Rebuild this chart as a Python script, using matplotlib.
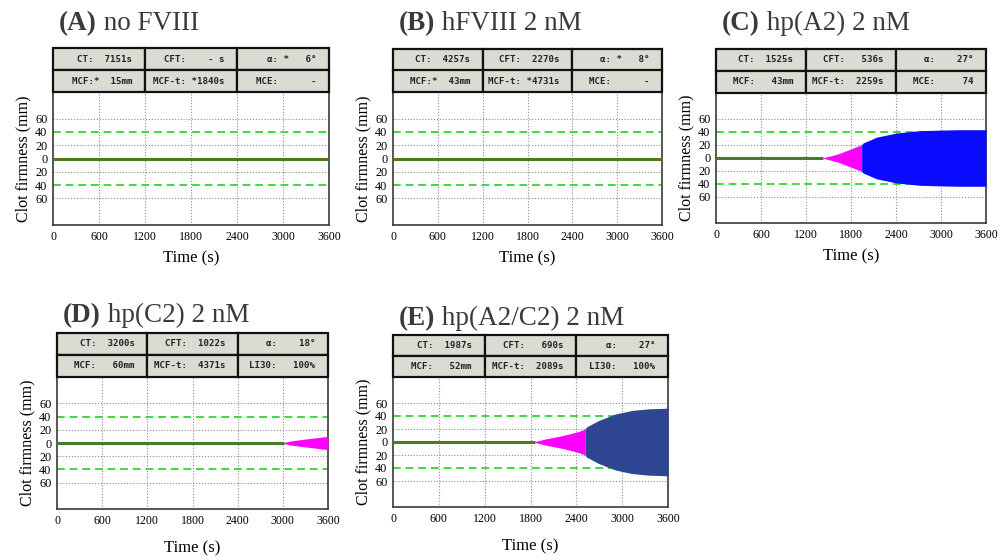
import matplotlib
matplotlib.use("Agg")
import matplotlib.pyplot as plt
from matplotlib.patches import Rectangle

plt.rcParams["font.family"] = ["Liberation Serif", "DejaVu Serif"]

W, H = 1005, 560

# ---- data -------------------------------------------------------------
panel_letters = ["(A)", "(B)", "(C)", "(D)", "(E)"]
panel_names = [" no FVIII", " hFVIII 2 nM", " hp(A2) 2 nM", " hp(C2) 2 nM", " hp(A2/C2) 2 nM"]

x_ticks = [0, 600, 1200, 1800, 2400, 3000, 3600]
y_ticks = [60, 40, 20, 0, -20, -40, -60]
y_tick_labels = ["60", "40", "20", "0", "20", "40", "60"]
ref_band = 40  # green dashed reference lines (mm)

# end of the flat baseline (s) before the clot starts to form
baseline_end = [3600, 3600, 1431, 3013, 1860]

# clot amplitude (mm) during clot formation (magenta) and after (blue)
c_form_t = [1431, 1620, 1800, 1942]
c_form_a = [0.5, 6, 14, 20.5]
c_firm_t = [1942, 1960, 2140, 2410, 2720, 3030, 3230, 3600]
c_firm_a = [20.5, 23, 32, 38.5, 42, 43, 43.5, 43.5]

d_form_t = [3013, 3100, 3300, 3600]
d_form_a = [0.8, 3, 6, 10]

e_form_t = [1860, 2000, 2226, 2410, 2517]
e_form_a = [0.8, 4.8, 10, 15.5, 20]
e_firm_t = [2517, 2530, 2691, 2909, 3126, 3343, 3600]
e_firm_a = [20, 23, 33, 43, 48.5, 51, 52]

# ROTEM parameter tables: (label, flag, value) per cell, 2 rows x 3 cols
tables = [
    [("CT:", "", "7151s"), ("CFT:", "", "- s"), ("α:", " *", "6°"),
     ("MCF:", "*", "15mm"), ("MCF-t:", "", "*1840s"), ("MCE:", "", "-")],
    [("CT:", "", "4257s"), ("CFT:", "", "2270s"), ("α:", " *", "8°"),
     ("MCF:", "*", "43mm"), ("MCF-t:", "", "*4731s"), ("MCE:", "", "-")],
    [("CT:", "", "1525s"), ("CFT:", "", "536s"), ("α:", "", "27°"),
     ("MCF:", "", "43mm"), ("MCF-t:", "", "2259s"), ("MCE:", "", "74")],
    [("CT:", "", "3200s"), ("CFT:", "", "1022s"), ("α:", "", "18°"),
     ("MCF:", "", "60mm"), ("MCF-t:", "", "4371s"), ("LI30:", "", "100%")],
    [("CT:", "", "1987s"), ("CFT:", "", "690s"), ("α:", "", "27°"),
     ("MCF:", "", "52mm"), ("MCF-t:", "", "2089s"), ("LI30:", "", "100%")],
]

# ---- layout (pixel boxes: left, right, top, bottom) -------------------
plot_boxes = [(53, 329, 92, 225), (393, 662, 92, 225), (716, 986, 93, 223),
              (57, 328, 377, 509), (393, 668, 377, 507)]
table_tops = [48, 49, 49, 333, 335]
title_baselines = [30.5, 30.5, 30.5, 322, 325]
xlabel_pads = [5.5, 5.5, 5.5, 10, 10]

MAGENTA = "#ff00ff"
BLUE_C = "#0a0aff"
NAVY_E = "#2e4592"
BASE_GREEN = "#4b7b22"
REF_GREEN = "#3ddc3d"
GRID = "#8a8a8a"
CELL = "#dcdbd3"
FIELD = 7  # characters printed after the colon in each table cell

fig = plt.figure(figsize=(W / 100, H / 100), dpi=100)
fig.patch.set_facecolor("white")


def fbox(l, r, t, b):
    return [l / W, 1 - b / H, (r - l) / W, (b - t) / H]


def cell_text(label, flag, value):
    pad = FIELD - len(flag) - len(value)
    return label + flag + " " * max(pad, 1) + value


fills = [
    [],
    [],
    [(c_form_t, c_form_a, MAGENTA), (c_firm_t, c_firm_a, BLUE_C)],
    [(d_form_t, d_form_a, MAGENTA)],
    [(e_form_t, e_form_a, MAGENTA), (e_firm_t, e_firm_a, NAVY_E)],
]

for i in range(5):
    l, r, t, b = plot_boxes[i]
    ax = fig.add_axes(fbox(l, r, t, b))
    ax.set_xlim(0, 3600)
    ax.set_ylim(-100, 100)

    for gx in x_ticks[1:-1]:
        ax.axvline(gx, color=GRID, lw=0.8, ls=(0, (1, 1.6)), zorder=1)
    for gy in (60, 20, -20, -60):
        ax.axhline(gy, color=GRID, lw=0.8, ls=(0, (1, 1.6)), zorder=1)
    for gy in (ref_band, -ref_band):
        ax.axhline(gy, color=REF_GREEN, lw=1.4, ls=(0, (4, 2.5)), zorder=2)

    ax.plot([0, baseline_end[i]], [0, 0], color=BASE_GREEN, lw=2.2,
            solid_capstyle="butt", zorder=3)
    for tt, aa, col in fills[i]:
        ax.fill_between(tt, aa, [-v for v in aa], color=col, lw=0, zorder=4)

    ax.set_xticks(x_ticks)
    ax.set_xticklabels([str(v) for v in x_ticks], fontsize=8.6)
    ax.set_yticks(y_ticks)
    ax.set_yticklabels(y_tick_labels, fontsize=8.8)
    ax.tick_params(length=0, pad=4)
    for s in ax.spines.values():
        s.set_color("#3a3a3a")
        s.set_linewidth(1.2)
    ax.set_xlabel("Time (s)", fontsize=12, labelpad=xlabel_pads[i])
    ax.set_ylabel("Clot firmness (mm)", fontsize=11.5, labelpad=3)

    # parameter table
    tax = fig.add_axes(fbox(l, r, table_tops[i], t))
    tax.set_xlim(0, 3)
    tax.set_ylim(0, 2)
    tax.axis("off")
    for k, (lab, flag, val) in enumerate(tables[i]):
        col, row = k % 3, k // 3
        y0 = 1 - row
        tax.add_patch(Rectangle((col, y0), 1, 1, facecolor=CELL,
                                edgecolor="#111111", lw=1.6, clip_on=False))
        tax.text(col + 0.86, y0 + 0.5, cell_text(lab, flag, val),
                 ha="right", va="center", fontsize=6.6,
                 family="DejaVu Sans Mono", weight="bold", color="#222222")

    # panel title: bold letter followed by regular text
    t1 = fig.text((l + 6) / W, 1 - title_baselines[i] / H, panel_letters[i],
                  fontsize=19.5, weight="bold", color="#3a3a3a", va="baseline")
    ax.annotate(panel_names[i], xy=(1, 0), xycoords=t1, fontsize=19.5,
                color="#3a3a3a", va="bottom", ha="left",
                annotation_clip=False)

fig.savefig("out.png", dpi=100, facecolor="white")
